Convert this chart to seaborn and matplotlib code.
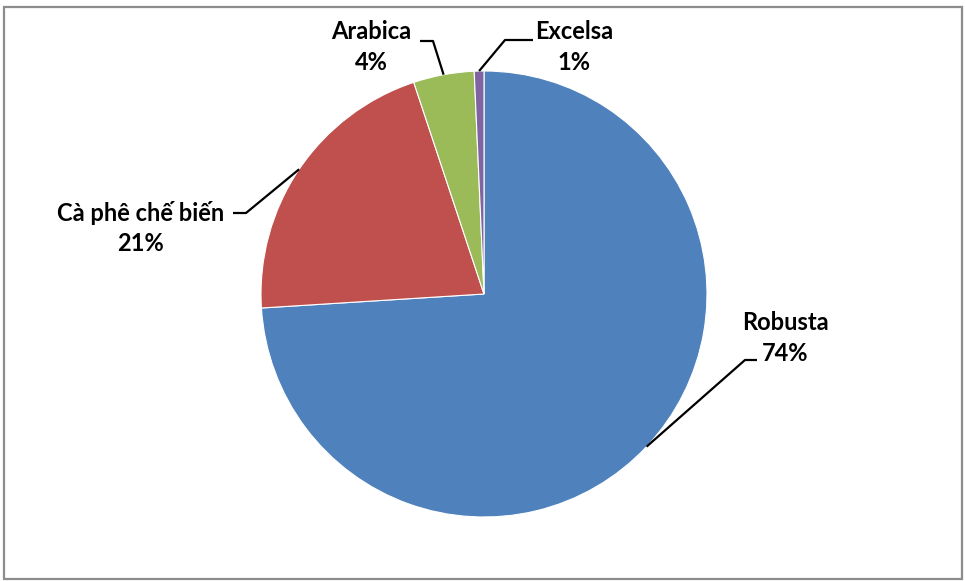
import numpy as np
import matplotlib
matplotlib.use("Agg")
import matplotlib.pyplot as plt
from matplotlib.patches import Rectangle
import seaborn as sns

categories = ["Robusta", "Cà phê chế biến", "Arabica", "Excelsa"]
values = [74.0, 20.9, 4.4, 0.7]
colors = ["#4F81BD", "#C0504D", "#9BBB59", "#8064A2"]

sns.set_theme(style="white")
plt.rcParams['font.family'] = ['Lato', 'DejaVu Sans']

W, H = 965, 581
fig = plt.figure(figsize=(W / 100, H / 100), dpi=100)
cx, cy, R = 484, 294, 223
ax = fig.add_axes([(cx - R) / W, (H - cy - R) / H, 2 * R / W, 2 * R / H])
palette = sns.color_palette(colors)
wedges, _ = ax.pie(values, colors=palette, startangle=90, counterclock=False,
                   radius=1.0, wedgeprops=dict(linewidth=0.8, edgecolor="white"))
ax.set_xlim(-1, 1)
ax.set_ylim(-1, 1)
ax.set_aspect("equal")
ax.axis("off")


def d(px, py):
    return (px - cx) / R, (cy - py) / R


# elbow, end of leader, label centre (pixels)
layout = [
    ((745, 360), (757, 360), (785, 338)),
    ((246, 213), (233, 213), (141, 228)),
    ((433, 41), (420, 41), (371, 47)),
    ((505, 40), (533, 40), (574, 47)),
]
for w, name, v, (elb, end, lab) in zip(wedges, categories, values, layout):
    ang = np.deg2rad((w.theta1 + w.theta2) / 2)
    sx, sy = np.cos(ang), np.sin(ang)
    ex, ey = d(*elb)
    tx, ty = d(*end)
    ax.plot([sx, ex, tx], [sy, ey, ty], color="black", lw=1.6, clip_on=False,
            solid_capstyle="butt")
    lx, ly = d(*lab)
    ax.text(lx, ly, f"{name}\n{v:.0f}%", ha="center", va="center",
            fontsize=17, fontweight="bold", color="black", linespacing=1.38)

fig.patches.append(Rectangle((3.5 / W, 2.5 / H), (962 - 3.5) / W, (577 - 5) / H,
                             transform=fig.transFigure, fill=False,
                             edgecolor="#8c8c8c", linewidth=1.6))
fig.savefig("out.png", dpi=100)
